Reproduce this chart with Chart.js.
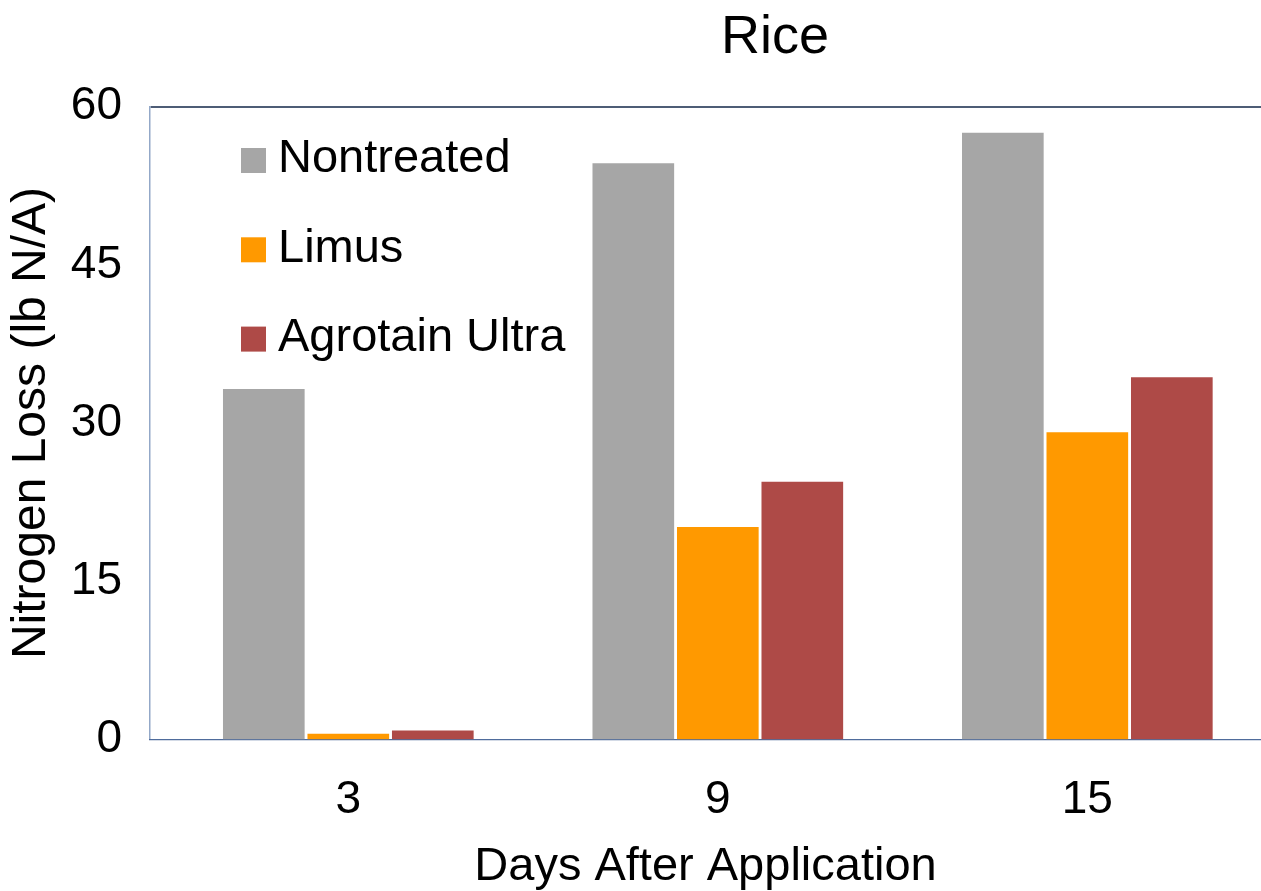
<!DOCTYPE html>
<html lang="en">
<head>
    <meta charset="UTF-8">
    <title>Rice - Nitrogen Loss</title>
    <style>
        html, body { margin: 0; padding: 0; background: #fff; }
        .wrap { width: 1261px; height: 891px; }
    </style>
</head>
<body>
<div class="wrap">
    <canvas id="riceChart"></canvas>
</div>

<script src="https://cdn.jsdelivr.net/npm/chart.js"></script>
<script>
// data
const days = [3, 9, 15];
const nontreated = [33.2, 54.6, 57.5];
const limus = [0.5, 20.1, 29.1];
const agrotainUltra = [0.8, 24.4, 34.3];
const yTicks = [0, 15, 30, 45, 60];

const FONT = "'Liberation Sans', Arial, sans-serif";

// title and in-plot legend, drawn by hand like the original
const decorations = {
    id: 'decorations',
    afterDraw(chart) {
        const ctx = chart.ctx;
        ctx.save();
        ctx.fillStyle = '#000';
        ctx.textBaseline = 'middle';
        ctx.textAlign = 'center';
        ctx.font = '54px ' + FONT;
        ctx.fillText('Rice', 775, 38);

        ctx.textAlign = 'left';
        ctx.font = '47px ' + FONT;
        chart.data.datasets.forEach(function (ds, i) {
            const cy = 160.5 + i * 89.3;
            ctx.fillStyle = ds.backgroundColor;
            ctx.fillRect(241, cy - 12.5, 25, 25);
            ctx.fillStyle = '#000';
            ctx.fillText(ds.label, 278, cy - 1);
        });
        ctx.restore();
    }
};

const ctx = document.getElementById('riceChart').getContext('2d');
new Chart(ctx, {
    type: 'bar',
    data: {
        labels: days,
        datasets: [
            { label: 'Nontreated', data: nontreated, backgroundColor: '#A6A6A6' },
            { label: 'Limus', data: limus, backgroundColor: '#FF9900' },
            { label: 'Agrotain Ultra', data: agrotainUltra, backgroundColor: '#AE4A47' }
        ]
    },
    options: {
        responsive: true,
        maintainAspectRatio: false,
        animation: false,
        devicePixelRatio: 1,
        barThickness: 84.5,
        maxBarThickness: 81,
        layout: { padding: { top: 106.7, left: 0, right: 0, bottom: 0 } },
        plugins: {
            legend: { display: false },
            title: { display: false },
            tooltip: { enabled: false }
        },
        scales: {
            x: {
                type: 'linear',
                offset: false,
                min: -0.22,
                max: 17.82,
                afterBuildTicks: function (scale) {
                    scale.ticks = days.map(function (d) { return { value: d }; });
                },
                afterFit: function (scale) { scale.height = 151.7; },
                grid: { display: false, drawTicks: false },
                border: { display: true, color: '#4F6C9C', width: 1.2 },
                ticks: {
                    color: '#000',
                    padding: 38,
                    font: { family: FONT, size: 46, lineHeight: 1 },
                    maxRotation: 0
                },
                title: {
                    display: true,
                    text: 'Days After Application',
                    color: '#000',
                    font: { family: FONT, size: 47, lineHeight: 1 },
                    padding: { top: 0, bottom: 0 }
                }
            },
            y: {
                min: 0,
                max: 60,
                afterBuildTicks: function (scale) {
                    scale.ticks = yTicks.map(function (v) { return { value: v }; });
                },
                afterFit: function (scale) { scale.width = 150; },
                grid: {
                    drawTicks: false,
                    color: function (c) { return c.tick && c.tick.value === 60 ? '#4E5D76' : 'rgba(0,0,0,0)'; },
                    lineWidth: function (c) { return c.tick && c.tick.value === 60 ? 2 : 0; }
                },
                border: { display: true, color: '#93A8C8', width: 1.5 },
                ticks: {
                    color: '#000',
                    padding: 28,
                    font: { family: FONT, size: 46, lineHeight: 1 }
                },
                title: {
                    display: true,
                    text: 'Nitrogen Loss (lb N/A)',
                    color: '#000',
                    font: { family: FONT, size: 48, lineHeight: 1 },
                    padding: { top: 8, bottom: 0 }
                }
            }
        }
    },
    plugins: [decorations]
});
</script>
</body>
</html>
